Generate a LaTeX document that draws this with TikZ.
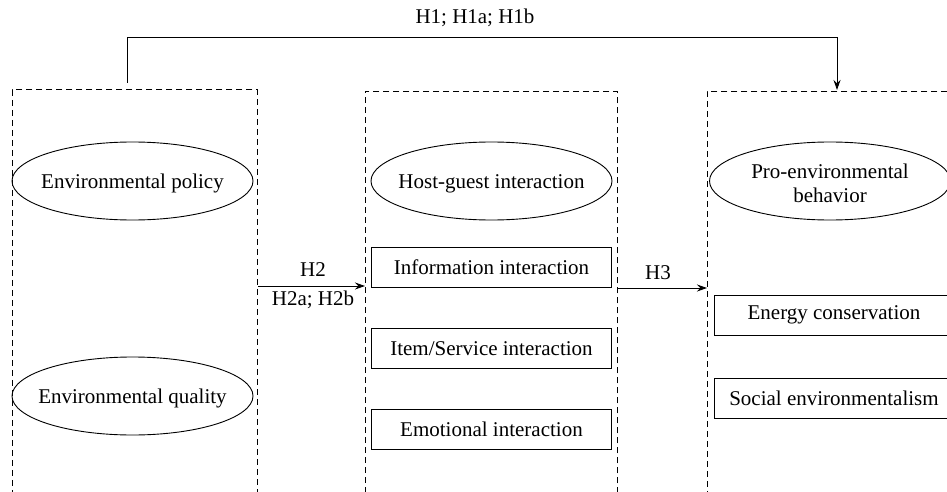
\documentclass[tikz,border=0pt]{standalone}
\usepackage{fontspec}
\setmainfont{Liberation Serif}
\usetikzlibrary{arrows.meta,shapes.geometric}
\begin{document}
\begin{tikzpicture}[x=1pt,y=-1pt,
  every node/.style={font=\fontsize{21}{24}\selectfont, inner sep=0pt},
  group/.style={draw, line width=0.9pt, dash pattern=on 6pt off 4pt, rectangle, anchor=north west},
  construct/.style={draw, ellipse, line width=0.9pt, minimum width=241pt, minimum height=78pt},
  dim/.style={draw, rectangle, line width=0.9pt, minimum width=240pt, minimum height=40pt},
  link/.style={line width=0.9pt, -{Stealth[length=10pt,width=7pt]}},
  lbl/.style={fill=none},
  every label/.style={font=\fontsize{21}{24}\selectfont, inner sep=0pt, align=center, yshift=-2.5pt}
]
\useasboundingbox (0,0) rectangle (947,492);
\clip (0,0) rectangle (947,492);
\fill[white] (0,0) rectangle (947,492);

% dashed groups (open at the bottom, run past the page edge)
\node[group, minimum width=245pt, minimum height=420pt] (L) at (12,89.5) {};
\node[group, minimum width=252pt, minimum height=420pt] (M) at (365,91) {};
\node[group, minimum width=260pt, minimum height=420pt] (R) at (707,91) {};

% left
\node[construct, label={center:Environmental policy}] (pol) at (132.5,181) {};
\node[construct, label={center:Environmental quality}] (qual) at (132.5,396) {};

% middle
\node[construct, label={center:Host-guest interaction}] (host) at (491.5,181) {};
\node[dim] (info) at (491.5,267.5) {Information interaction};
\node[dim] (item) at (491.5,348.5) {Item/Service interaction};
\node[dim] (emo) at (491.5,429) {Emotional interaction};

% right
\node[construct, label={center:Pro-environmental\\behavior}] (pro) at (830,181) {};
\node[dim] (ener) at (834,315) {Energy conservation};
\node[dim] (soc) at (834,398) {Social environmentalism};

% H1 connector
\coordinate (h1s) at (127,83);
\coordinate (h1a) at (127,37);
\coordinate (h1b) at (837,37);
\coordinate (h1e) at (837,90);
\draw[link] (h1s) -- (h1a) -- (h1b) -- (h1e);
\node[lbl] (h1lab) at (475,18) {H1; H1a; H1b};

% H2 connector
\coordinate (h2s) at (L.east |- 0,286);
\coordinate (h2e) at (M.west |- 0,286);
\draw[link] (h2s) -- (h2e);
\node[lbl] (h2lab) at (313,270) {H2};
\node[lbl] (h2sub) at (313,300) {H2a; H2b};

% H3 connector
\coordinate (h3s) at (M.east |- 0,288);
\coordinate (h3e) at (R.west |- 0,288);
\draw[link] (h3s) -- (h3e);
\node[lbl] (h3lab) at (658,273) {H3};
\end{tikzpicture}
\end{document}
